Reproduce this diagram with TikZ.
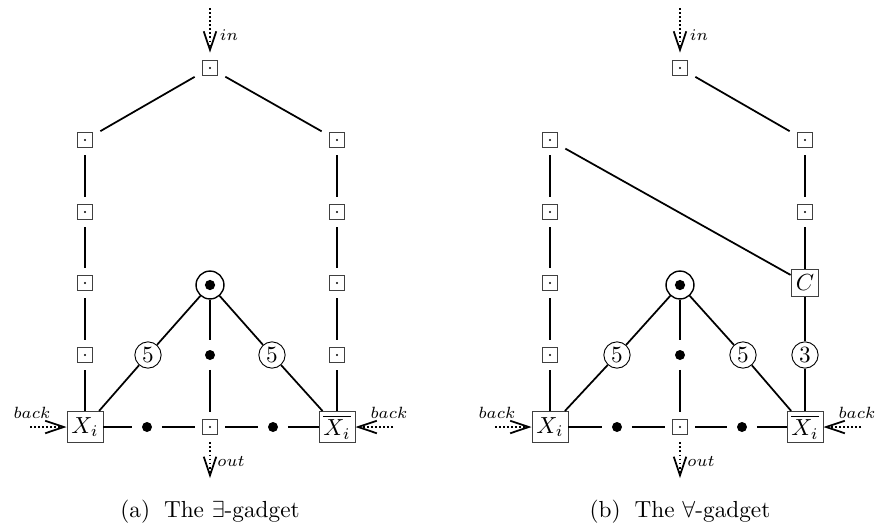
\documentclass[tikz,border=0pt]{standalone}
\usetikzlibrary{arrows.meta}
\begin{document}
\begin{tikzpicture}[x=0.43pt,y=-0.43pt,
 sq/.style={draw=black!75,line width=0.4pt,minimum size=6.4pt,inner sep=0pt,outer sep=3.4pt,
   path picture={\fill (path picture bounding box.center) circle (0.5pt);}},
 big/.style={draw,circle,line width=0.6pt,minimum size=12pt,inner sep=0pt,
   path picture={\fill (path picture bounding box.center) circle (2.2pt);}},
 num/.style={draw,circle,line width=0.4pt,minimum size=11.3pt,inner sep=0pt},
 lit/.style={draw=black!75,line width=0.4pt,minimum width=15.5pt,minimum height=13.4pt,inner sep=1pt},
 cbox/.style={draw=black!75,line width=0.4pt,minimum size=12pt,inner sep=1pt},
 dotn/.style={circle,fill,minimum size=4.3pt,inner sep=0pt,outer sep=4.2pt},
 edg/.style={line width=0.75pt},
 port/.style={densely dotted,line width=0.75pt,-{Straight Barb[length=8pt,width=5.4pt,line width=0.75pt]}},
 lab/.style={font=\scriptsize,inner sep=0pt}
]
\useasboundingbox (0,0) rectangle (882,529);

% ---------- (a) exists-gadget ----------
\node[sq] (aT) at (210,68) {};
\node[sq] (aL1) at (85,140) {};
\node[sq] (aL2) at (85,212) {};
\node[sq] (aL3) at (85,283) {};
\node[sq] (aL4) at (85,355) {};
\node[sq] (aR1) at (337,140) {};
\node[sq] (aR2) at (337,212) {};
\node[sq] (aR3) at (337,283) {};
\node[sq] (aR4) at (337,355) {};
\node[lit] (aX) at (85,427) {$X_i$};
\node[lit] (aXb) at (337,427) {$\overline{X_i}$};
\node[sq] (aB) at (210,427) {};
\node[dotn] (ad1) at (147,427) {};
\node[dotn] (ad2) at (273,427) {};
\node[big] (aO) at (210,285) {};
\node[dotn] (ad3) at (210,355) {};
\node[num] (a5l) at (148,355) {5};
\node[num] (a5r) at (272,355) {5};

\draw[edg] (aT) -- (aL1);
\draw[edg] (aT) -- (aR1);
\draw[edg] (aL1) -- (aL2) -- (aL3) -- (aL4) -- (aX);
\draw[edg] (aR1) -- (aR2) -- (aR3) -- (aR4) -- (aXb);
\draw[edg] (aX) -- (ad1) -- (aB) -- (ad2) -- (aXb);
\draw[edg] (aO) -- (ad3) -- (aB);
\draw[edg] (aO) -- (a5l) -- (aX);
\draw[edg] (aO) -- (a5r) -- (aXb);

\coordinate (ainS) at (210,8);
\coordinate (aoutE) at (210,478);
\coordinate (abl) at (30,427);
\coordinate (abr) at (393,427);
\draw[port] (ainS) -- (aT);
\draw[port] (aB) -- (aoutE);
\draw[port] (abl) -- (aX);
\draw[port] (abr) -- (aXb);
\node[lab] (ainL) at (229,35) {$in$};
\node[lab] (aoutL) at (231,461) {$out$};
\node[lab] (abackL) at (32,413) {$back$};
\node[lab] (abackR) at (389,413) {$back$};
\node (acap) at (210,512) {(a)\hspace{0.6em}The $\exists$-gadget};

% ---------- (b) forall-gadget ----------
\node[sq] (bT) at (680,68) {};
\node[sq] (bL1) at (550,140) {};
\node[sq] (bL2) at (550,212) {};
\node[sq] (bL3) at (550,283) {};
\node[sq] (bL4) at (550,355) {};
\node[sq] (bR1) at (805,140) {};
\node[sq] (bR2) at (805,212) {};
\node[cbox] (bC) at (805,283) {$C$};
\node[num] (b3) at (805,355) {3};
\node[lit] (bX) at (550,427) {$X_i$};
\node[lit] (bXb) at (805,427) {$\overline{X_i}$};
\node[sq] (bB) at (680,427) {};
\node[dotn] (bd1) at (617,427) {};
\node[dotn] (bd2) at (742,427) {};
\node[big] (bO) at (680,285) {};
\node[dotn] (bd3) at (680,355) {};
\node[num] (b5l) at (617,355) {5};
\node[num] (b5r) at (743,355) {5};

\draw[edg] (bT) -- (bR1);
\draw[edg] (bL1) -- (bC);
\draw[edg] (bL1) -- (bL2) -- (bL3) -- (bL4) -- (bX);
\draw[edg] (bR1) -- (bR2) -- (bC) -- (b3) -- (bXb);
\draw[edg] (bX) -- (bd1) -- (bB) -- (bd2) -- (bXb);
\draw[edg] (bO) -- (bd3) -- (bB);
\draw[edg] (bO) -- (b5l) -- (bX);
\draw[edg] (bO) -- (b5r) -- (bXb);

\coordinate (binS) at (680,8);
\coordinate (boutE) at (680,478);
\coordinate (bbl) at (495,427);
\coordinate (bbr) at (861,427);
\draw[port] (binS) -- (bT);
\draw[port] (bB) -- (boutE);
\draw[port] (bbl) -- (bX);
\draw[port] (bbr) -- (bXb);
\node[lab] (binL) at (699,35) {$in$};
\node[lab] (boutL) at (701,461) {$out$};
\node[lab] (bbackL) at (497,413) {$back$};
\node[lab] (bbackR) at (857,413) {$back$};
\node (bcap) at (680,512) {(b)\hspace{0.6em}The $\forall$-gadget};
\end{tikzpicture}
\end{document}
